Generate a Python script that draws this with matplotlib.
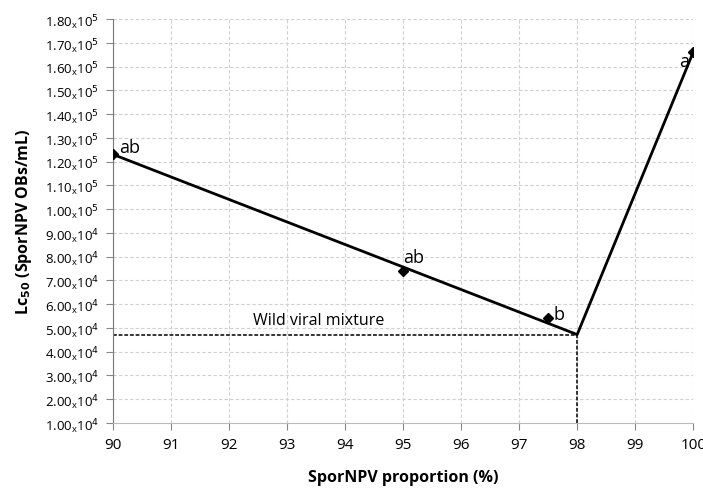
import matplotlib.pyplot as plt
import numpy as np

plt.rcParams['font.family'] = ['Open Sans', 'DejaVu Sans']

# data
proporcion = [90, 95, 97.5, 100]
lc50 = [1.23e5, 7.4e4, 5.42e4, 1.66e5]
letras = ['ab', 'ab', 'b', 'a']

# fitted lines (vertex at 98 %)
linea_x = [90, 98, 100]
linea_y = [1.23e5, 4.72e4, 1.66e5]
mezcla_x = 98
mezcla_y = 4.72e4

yticks = np.arange(1e4, 1.81e5, 1e4)

def etiqueta(v):
    exp = int(np.floor(np.log10(v)))
    return r'%.2f$_{\mathregular{x}}$10$^{%d}$' % (v / 10**exp, exp)

fig = plt.figure(figsize=(7.03, 4.89), dpi=100)
ax = fig.add_axes([0.161, 0.133, 0.825, 0.826])

ax.plot(linea_x, linea_y, color='black', lw=2, zorder=3)
ax.plot(proporcion, lc50, 'D', color='black', ms=5, zorder=4)

ax.plot([90, mezcla_x], [mezcla_y, mezcla_y], color='black', lw=1.1, dashes=(2.5, 1.2))
ax.plot([mezcla_x, mezcla_x], [1e4, mezcla_y], color='black', lw=1.1, dashes=(2.5, 1.2))
ax.text(93.55, 5.0e4, 'Wild viral mixture', fontsize=11.5, ha='center', va='bottom')

# posiciones de las letras
pos_letras = [(90.1, 1.26e5, 'left'), (95.0, 7.98e4, 'left'),
              (97.6, 5.58e4, 'left'), (99.93, 1.625e5, 'right')]
for t, (x, y, ha) in zip(letras, pos_letras):
    ax.text(x, y, t, fontsize=13, ha=ha, va='center')

ax.set_xlim(90, 100)
ax.set_ylim(1e4, 1.8e5)
ax.set_xticks(range(90, 101))
ax.set_yticks(yticks)
ax.set_yticklabels([etiqueta(v) for v in yticks], fontsize=9.5)
ax.tick_params(axis='x', labelsize=11, length=5, color='#888888', pad=5)
ax.tick_params(axis='y', length=5, color='#888888', pad=5)

ax.grid(True, ls=(0, (3, 2)), color='#d0d0d0', lw=0.8)
for s in ['top', 'right']:
    ax.spines[s].set_visible(False)
ax.spines['left'].set_color('#777777')
ax.spines['bottom'].set_color('#bbbbbb')

ax.set_xlabel('SporNPV proportion (%)', fontsize=11.5, fontweight='bold', labelpad=12)
ax.set_ylabel(r'Lc$_{\mathbf{50}}$ (SporNPV OBs/mL)', fontsize=11.5, fontweight='bold', labelpad=8)

plt.savefig('out.png', dpi=100)
